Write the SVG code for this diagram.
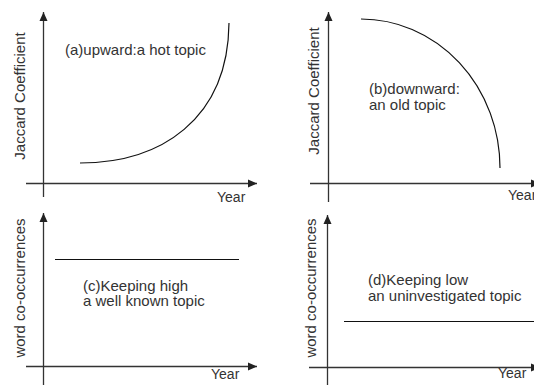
<svg xmlns="http://www.w3.org/2000/svg" width="534" height="385" viewBox="0 0 534 385">
<defs>
<marker id="arr" markerUnits="userSpaceOnUse" markerWidth="9" markerHeight="9" viewBox="0 0 9 9" refX="9" refY="4.5" orient="auto">
<path d="M0,0.5 L9,4.5 L0,8.5 Z" fill="#222"/>
</marker>
<style>
.ax{stroke:#333;stroke-width:1.3;fill:none}
.cv{stroke:#111;stroke-width:1.2;fill:none}
.t{font-family:"Liberation Sans",Arial,sans-serif;font-size:15px;fill:#333}
.yr{font-family:"Liberation Sans",Arial,sans-serif;font-size:14px;fill:#333}
</style>
</defs>
<rect width="534" height="385" fill="#fff"/>
<g id="panel-a">
<g class="axes">
<line class="ax" x1="43.5" y1="197" x2="43.5" y2="12" marker-end="url(#arr)"/>
<line class="ax" x1="26" y1="183.5" x2="257" y2="183.5" marker-end="url(#arr)"/>
</g>
<path class="cv" d="M80,163 C160,163 228,120 229,23"/>
<text class="t" x="65" y="55">(a)upward:a hot topic</text>
<text class="t" transform="translate(25,96) rotate(-90)" text-anchor="middle">Jaccard Coefficient</text>
<text class="yr" x="217" y="202">Year</text>
</g>
<g id="panel-b">
<g class="axes">
<line class="ax" x1="328.5" y1="202" x2="328.5" y2="12" marker-end="url(#arr)"/>
<line class="ax" x1="310" y1="183.5" x2="540" y2="183.5" marker-end="url(#arr)"/>
</g>
<path class="cv" d="M361,19 A139,149 0 0 1 500,168"/>
<text class="t" x="369" y="94">(b)downward:</text>
<text class="t" x="369" y="110">an old topic</text>
<text class="t" transform="translate(319,91) rotate(-90)" text-anchor="middle">Jaccard Coefficient</text>
<text class="yr" x="508" y="200">Year</text>
</g>
<g id="panel-c">
<g class="axes">
<line class="ax" x1="43.5" y1="385" x2="43.5" y2="213" marker-end="url(#arr)"/>
<line class="ax" x1="26" y1="366.5" x2="257" y2="366.5" marker-end="url(#arr)"/>
</g>
<line class="cv" x1="55" y1="259.5" x2="239" y2="259.5"/>
<text class="t" x="83" y="291">(c)Keeping high</text>
<text class="t" x="83" y="306">a well known topic</text>
<text class="t" transform="translate(25,288) rotate(-90)" text-anchor="middle">word co-occurrences</text>
<text class="yr" x="211" y="379">Year</text>
</g>
<g id="panel-d">
<g class="axes">
<line class="ax" x1="327.5" y1="385" x2="327.5" y2="215" marker-end="url(#arr)"/>
<line class="ax" x1="309" y1="367.5" x2="540" y2="367.5" marker-end="url(#arr)"/>
</g>
<line class="cv" x1="344" y1="321.5" x2="534" y2="321.5"/>
<text class="t" x="368" y="285">(d)Keeping low</text>
<text class="t" x="368" y="301">an uninvestigated topic</text>
<text class="t" transform="translate(315.5,288) rotate(-90)" text-anchor="middle">word co-occurrences</text>
<text class="yr" x="498" y="378">Year</text>
</g>
</svg>
